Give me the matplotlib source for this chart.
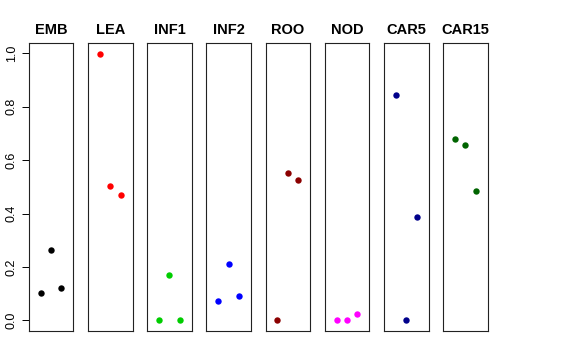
import matplotlib
matplotlib.use('Agg')
import matplotlib.pyplot as plt

plt.rcParams['font.family'] = ['Liberation Sans', 'DejaVu Sans']

# Data
groups = ['EMB', 'LEA', 'INF1', 'INF2', 'ROO', 'NOD', 'CAR5', 'CAR15']
colors = ['black', 'red', '#00CD00', 'blue', '#8B0000', 'magenta', '#00008B', '#006400']
xpos = [1, 2, 3]
values = {
    'EMB':   [0.102, 0.263, 0.122],
    'LEA':   [0.998, 0.502, 0.470],
    'INF1':  [0.0, 0.168, 0.0],
    'INF2':  [0.072, 0.211, 0.091],
    'ROO':   [0.0, 0.553, 0.525],
    'NOD':   [0.0, 0.0, 0.025],
    'CAR5':  [0.844, 0.0, 0.386],
    'CAR15': [0.680, 0.657, 0.484],
}
yticks = [0.0, 0.2, 0.4, 0.6, 0.8, 1.0]

W, H = 576, 360
fig = plt.figure(figsize=(W / 100, H / 100), dpi=100)

# panel geometry in pixels
left0, step, pw = 28.7, 59.2, 44.6
top, bottom = 42.7, 331.0

for i, (g, c) in enumerate(zip(groups, colors)):
    x0 = left0 + i * step
    ax = fig.add_axes([x0 / W, (H - bottom) / H, pw / W, (bottom - top) / H])
    ax.plot(xpos, values[g], 'o', color=c, markersize=4.6, markeredgewidth=0)
    ax.set_xlim(-0.16, 4.16)
    ax.set_ylim(-0.04, 1.04)
    ax.set_xticks([])
    ax.set_title(g, fontsize=10.5, fontweight='bold', pad=6)
    for s in ax.spines.values():
        s.set_linewidth(0.8)
        s.set_color('#222222')
    if i == 0:
        ax.set_yticks(yticks)
        ax.set_yticklabels([f'{v:.1f}' for v in yticks], rotation=90, va='center', fontsize=9)
        ax.tick_params(axis='y', length=5, width=0.7, pad=3)
    else:
        ax.set_yticks([])

fig.savefig('out.png', dpi=100)
